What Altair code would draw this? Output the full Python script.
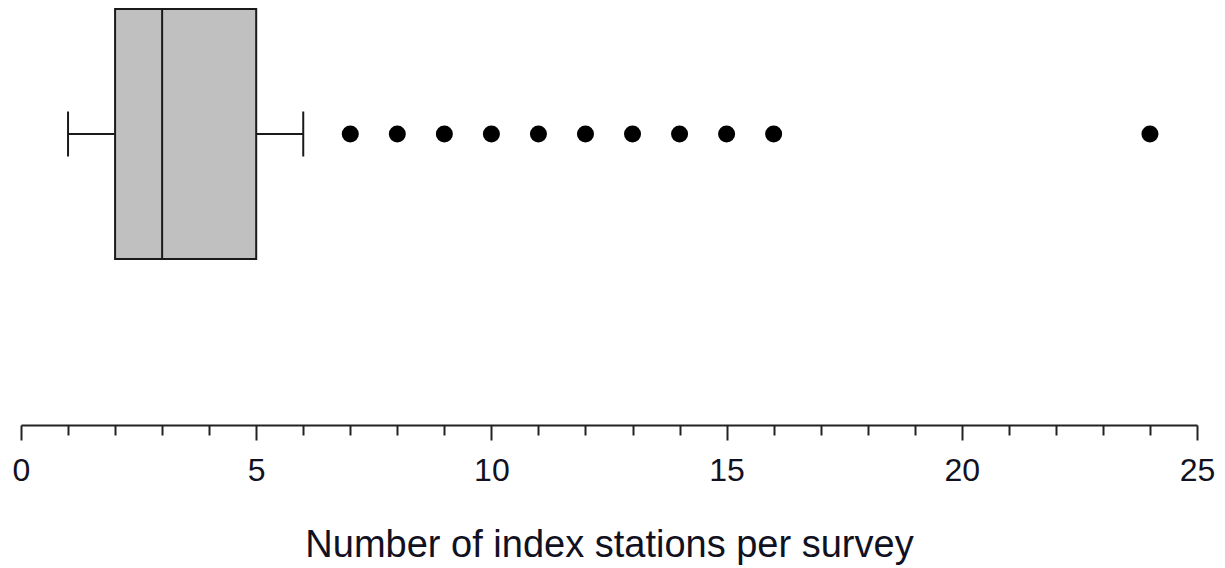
import altair as alt
import pandas as pd

# Data
group = ["survey"]
whisker_low = [1]
q1 = [2]
median = [3]
q3 = [5]
whisker_high = [6]
outliers = [7, 8, 9, 10, 11, 12, 13, 14, 15, 16, 24]
tick_values = list(range(0, 26))

stats = pd.DataFrame({
    "group": group,
    "lo": whisker_low,
    "q1": q1,
    "med": median,
    "q3": q3,
    "hi": whisker_high,
})
out_df = pd.DataFrame({"group": group * len(outliers), "value": outliers})

FONT = "Liberation Sans"

xscale = alt.Scale(domain=[0, 25], nice=False, zero=True)
xaxis = alt.Axis(
    values=tick_values,
    labelExpr="datum.value % 5 === 0 ? datum.label : ''",
    title="Number of index stations per survey",
    grid=False,
    domainColor="#222222",
    domainWidth=2,
    tickColor="#222222",
    tickWidth=2,
    tickSize={"condition": {"test": "datum.value % 5 === 0", "value": 15}, "value": 10},
    labelFont=FONT,
    labelFontSize=32,
    labelColor="#111122",
    labelPadding=15,
    labelFlush=False,
    titleFont=FONT,
    titleFontSize=38,
    titleFontWeight="normal",
    titleColor="#111122",
    titlePadding=40,
    offset=157,
)
yenc = alt.Y("group:N", axis=None, scale=alt.Scale(paddingInner=0, paddingOuter=0))

base = alt.Chart(stats)

box = base.mark_bar(size=250, color="#C0C0C0", stroke="#1a1a1a", strokeWidth=2).encode(
    x=alt.X("q1:Q", scale=xscale, axis=xaxis),
    x2="q3:Q",
    y=yenc,
)
whisk_lo = base.mark_rule(color="#1a1a1a", strokeWidth=2).encode(
    x="lo:Q", x2="q1:Q", y=yenc
)
whisk_hi = base.mark_rule(color="#1a1a1a", strokeWidth=2).encode(
    x="q3:Q", x2="hi:Q", y=yenc
)
cap_lo = base.mark_tick(color="#1a1a1a", thickness=2, size=45, opacity=1).encode(
    x="lo:Q", y=yenc
)
cap_hi = base.mark_tick(color="#1a1a1a", thickness=2, size=45, opacity=1).encode(
    x="hi:Q", y=yenc
)
med = base.mark_tick(color="#1a1a1a", thickness=2, size=250, opacity=1).encode(
    x="med:Q", y=yenc
)
pts = alt.Chart(out_df).mark_circle(size=290, color="black", opacity=1).encode(
    x="value:Q", y=yenc
)

chart = (
    alt.layer(box, whisk_lo, whisk_hi, cap_lo, cap_hi, med, pts)
    .properties(
        width=1176,
        height=268,
        padding={"left": 21, "top": 0, "right": 28, "bottom": 300},
        autosize=alt.AutoSizeParams(type="none"),
    )
    .configure_view(stroke=None)
)

chart.save("out.html", embed_options={"renderer": "svg", "actions": False})
